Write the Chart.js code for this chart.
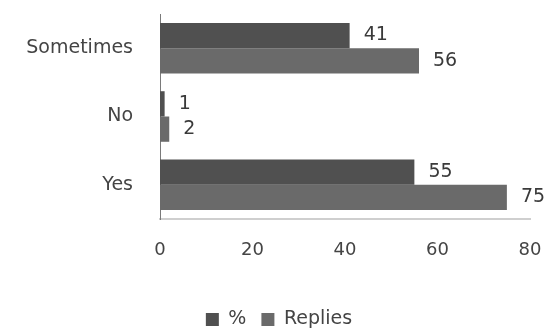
<!DOCTYPE html>
<html>
<head>
<meta charset="utf-8">
<script src="https://cdn.jsdelivr.net/npm/chart.js@4/dist/chart.umd.min.js"></script>
<style>
  html,body{margin:0;padding:0;background:#fff;}
  #wrap{width:550px;height:331px;position:relative;}
</style>
</head>
<body>
<div id="wrap"><canvas id="chart"></canvas></div>
<script>
const categories = ['Sometimes', 'No', 'Yes'];
const pctValues = [41, 1, 55];
const replyValues = [56, 2, 75];
const xTicks = [0, 20, 40, 60, 80];

const FONT = "'DejaVu Sans', 'Open Sans', sans-serif";

// values written just right of each bar
const endLabels = {
  id: 'endLabels',
  afterDatasetsDraw(chart){
    const ctx = chart.ctx;
    ctx.save();
    ctx.font = '19px ' + FONT;
    ctx.fillStyle = '#3a3a3a';
    ctx.textAlign = 'left';
    ctx.textBaseline = 'middle';
    chart.data.datasets.forEach((ds, i) => {
      chart.getDatasetMeta(i).data.forEach((bar, j) => {
        ctx.fillText(String(ds.data[j]), bar.x + 14, bar.y);
      });
    });
    ctx.restore();
  }
};

// legend sits a little right of centre in the original
const nudgeLegend = {
  id: 'nudgeLegend',
  afterLayout(chart){
    chart.legend.left += 14;
    chart.legend.right += 14;
  }
};

new Chart(document.getElementById('chart'), {
  type: 'bar',
  data: {
    labels: categories,
    datasets: [
      {label: '%', data: pctValues, backgroundColor: '#505050', borderWidth: 0},
      {label: 'Replies', data: replyValues, backgroundColor: '#6a6a6a', borderWidth: 0}
    ]
  },
  options: {
    indexAxis: 'y',
    responsive: true,
    maintainAspectRatio: false,
    animation: false,
    categoryPercentage: 0.74,
    barPercentage: 1,
    layout: {padding: {top: 14, right: 20, left: 0, bottom: 0}},
    plugins: {
      tooltip: {enabled: false},
      legend: {
        position: 'bottom',
        maxHeight: 36,
        labels: {color: '#444', boxWidth: 13, boxHeight: 13, padding: 15, font: {family: FONT, size: 19}}
      }
    },
    scales: {
      x: {
        min: 0, max: 80,
        afterBuildTicks: s => { s.ticks = xTicks.map(v => ({value: v})); },
        afterFit: s => { s.height = 76; s.paddingLeft = 0; s.paddingRight = 0; },
        grid: {display: false, drawTicks: false},
        border: {display: true, color: '#cfcfcf', width: 2},
        ticks: {color: '#444', padding: 21, font: {family: FONT, size: 18}}
      },
      y: {
        afterFit: s => { s.width = 160; s.paddingTop = 0; s.paddingBottom = 0; },
        grid: {display: false, drawTicks: false},
        border: {display: true, color: '#7a7a7a', width: 1},
        ticks: {color: '#444', padding: 27, font: {family: FONT, size: 19}}
      }
    }
  },
  plugins: [endLabels, nudgeLegend]
});
</script>
</body>
</html>
